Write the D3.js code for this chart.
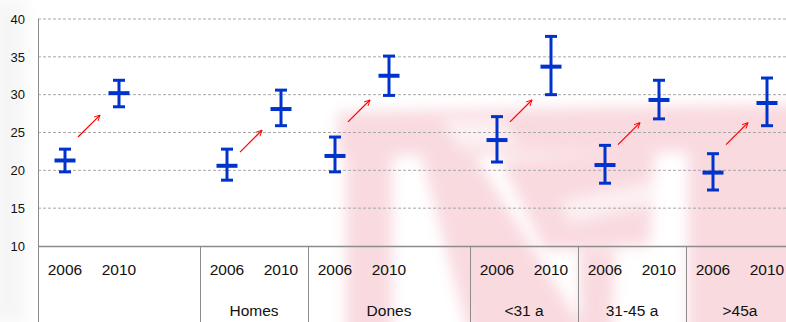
<!DOCTYPE html>
<html>
<head>
<meta charset="utf-8">
<script src="https://cdn.jsdelivr.net/npm/d3@7/dist/d3.min.js"></script>
<style>
  html, body { margin: 0; padding: 0; background: #fff; }
  svg { display: block; font-family: "Liberation Sans", Arial, sans-serif; }
</style>
</head>
<body>
<svg id="chart" width="786" height="322"></svg>
<script>
// Group labels and how many category slots each group occupies
const groupLabels = ["", "Homes", "Dones", "<31 a", "31-45 a", ">45a"];
const groupSlots = [3, 2, 3, 2, 2, 2];
const years = ["2006", "2010"];
const yTicks = [10, 15, 20, 25, 30, 35, 40];

// Mean values with lower / upper confidence limits
const mean2006 = [21.3, 20.6, 21.9, 24.0, 20.7, 19.7];
const low2006  = [19.8, 18.7, 19.8, 21.1, 18.3, 17.4];
const high2006 = [22.8, 22.8, 24.4, 27.1, 23.3, 22.2];
const mean2010 = [30.2, 28.1, 32.5, 33.7, 29.3, 28.9];
const low2010  = [28.4, 25.9, 29.9, 30.0, 26.8, 25.9];
const high2010 = [31.9, 30.6, 35.1, 37.7, 31.9, 32.2];

// Trend arrows: start and end level of each arrow
const arrowFrom = [24.4, 22.4, 26.4, 26.4, 23.4, 23.4];
const arrowTo   = [27.3, 25.3, 29.3, 29.3, 26.3, 26.3];

const svg = d3.select("#chart");
const W = 786, H = 322;
const plotLeft = 38, plotTop = 19, plotBottom = 246;
const slot = 54;

// Category slots: each group gets its year slots plus optional empty slots
const slots = [];
groupLabels.forEach((g, gi) => {
  for (let k = 0; k < groupSlots[gi]; k++) {
    slots.push(k < years.length ? `g${gi}-${years[k]}` : `g${gi}-pad${k}`);
  }
});

const x = d3.scaleBand().domain(slots).range([plotLeft, plotLeft + slots.length * slot]).padding(0);
const y = d3.scaleLinear().domain([10, 40]).range([plotBottom, plotTop]);
const cx = key => x(key) + x.bandwidth() / 2;

// Background emblem, soft and faded
const defs = svg.append("defs");
defs.append("filter").attr("id", "soft").attr("filterUnits", "userSpaceOnUse")
  .attr("x", -50).attr("y", -50).attr("width", W + 100).attr("height", H + 100)
  .append("feGaussianBlur").attr("stdDeviation", 7);
const emblem = svg.append("g").attr("filter", "url(#soft)").attr("fill", "#f4bcc6").attr("opacity", 0.55);
[
  "M338,112 L800,104 L800,150 L338,156 Z",
  "M346,130 L392,130 L392,340 L346,340 Z",
  "M420,150 L470,148 L590,340 L470,340 Z",
  "M500,160 L655,150 L650,245 L545,250 Z",
  "M688,110 L800,110 L800,340 L688,340 Z",
  "M580,250 L615,250 L612,340 L580,340 Z"
].forEach(d => emblem.append("path").attr("d", d));
const streaks = svg.append("g").attr("filter", "url(#soft)").attr("fill", "#ffffff").attr("opacity", 0.6);
["M440,118 L500,118 L520,145 L460,150 Z", "M560,200 L660,180 L670,200 L570,225 Z"]
  .forEach(d => streaks.append("path").attr("d", d));
svg.append("rect").attr("x", -10).attr("y", 0).attr("width", 36).attr("height", H)
  .attr("fill", "#ededed").attr("opacity", 0.5).attr("filter", "url(#soft)");

// Horizontal gridlines
svg.append("g").selectAll("line")
  .data(yTicks.filter(t => t > 10))
  .join("line")
  .attr("x1", plotLeft).attr("x2", W)
  .attr("y1", d => y(d)).attr("y2", d => y(d))
  .attr("stroke", "#a8a8a8").attr("stroke-width", 1)
  .attr("stroke-dasharray", "3,2");

// Y axis
const yAxis = svg.append("g")
  .attr("transform", `translate(${plotLeft},0)`)
  .call(d3.axisLeft(y).tickValues(yTicks).tickSize(0).tickPadding(13).tickFormat(d3.format("d")));
yAxis.select(".domain").remove();
yAxis.selectAll("text").attr("font-size", 13).attr("fill", "#111")
  .attr("font-family", "Liberation Sans, Arial, sans-serif");

// Axis frame: left line down through label area, bottom axis line
svg.append("line").attr("x1", plotLeft + 0.5).attr("x2", plotLeft + 0.5)
  .attr("y1", y(40)).attr("y2", H).attr("stroke", "#8c8c8c");
svg.append("line").attr("x1", plotLeft).attr("x2", W)
  .attr("y1", plotBottom + 0.5).attr("y2", plotBottom + 0.5).attr("stroke", "#8c8c8c").attr("stroke-width", 1.5);

// Group separators in the label area
let acc = 0;
const groupSpans = groupSlots.map(n => { const s = acc; acc += n; return [s, acc]; });
svg.append("g").selectAll("line")
  .data(groupSpans.slice(1))
  .join("line")
  .attr("x1", d => Math.round(x(slots[d[0]])) + 0.5)
  .attr("x2", d => Math.round(x(slots[d[0]])) + 0.5)
  .attr("y1", plotBottom).attr("y2", H)
  .attr("stroke", "#8c8c8c");

// Year labels
const yearKeys = [];
groupLabels.forEach((g, gi) => years.forEach(yr => yearKeys.push({ key: `g${gi}-${yr}`, yr })));
svg.append("g").selectAll("text")
  .data(yearKeys)
  .join("text")
  .attr("x", d => cx(d.key)).attr("y", 275)
  .attr("text-anchor", "middle").attr("font-size", 15.5).attr("fill", "#111")
  .text(d => d.yr);

// Group labels centred under each group
svg.append("g").selectAll("text")
  .data(groupLabels.map((g, i) => ({ g, span: groupSpans[i] })))
  .join("text")
  .attr("x", d => (x(slots[d.span[0]]) + x(slots[d.span[1] - 1]) + x.bandwidth()) / 2)
  .attr("y", 316)
  .attr("text-anchor", "middle").attr("font-size", 15.5).attr("fill", "#111")
  .text(d => d.g);

// Error bars
const points = [];
groupLabels.forEach((g, gi) => {
  points.push({ key: `g${gi}-2006`, m: mean2006[gi], lo: low2006[gi], hi: high2006[gi] });
  points.push({ key: `g${gi}-2010`, m: mean2010[gi], lo: low2010[gi], hi: high2010[gi] });
});
const blue = "#0033cc";
const bars = svg.append("g").selectAll("g").data(points).join("g");
bars.append("line")
  .attr("x1", d => cx(d.key)).attr("x2", d => cx(d.key))
  .attr("y1", d => y(d.hi)).attr("y2", d => y(d.lo))
  .attr("stroke", blue).attr("stroke-width", 3);
bars.selectAll(".cap").data(d => [[d.key, d.hi], [d.key, d.lo]]).join("line")
  .attr("class", "cap")
  .attr("x1", d => cx(d[0]) - 6).attr("x2", d => cx(d[0]) + 6)
  .attr("y1", d => y(d[1])).attr("y2", d => y(d[1]))
  .attr("stroke", blue).attr("stroke-width", 3);
bars.append("line")
  .attr("x1", d => cx(d.key) - 10.5).attr("x2", d => cx(d.key) + 10.5)
  .attr("y1", d => y(d.m)).attr("y2", d => y(d.m))
  .attr("stroke", blue).attr("stroke-width", 4);

// Red trend arrows between 2006 and 2010
defs.append("marker").attr("id", "head")
  .attr("viewBox", "0 0 10 10").attr("refX", 9).attr("refY", 5)
  .attr("markerWidth", 7).attr("markerHeight", 7).attr("markerUnits", "userSpaceOnUse")
  .attr("orient", "auto")
  .append("path").attr("d", "M1,1 L9,5 L1,9").attr("fill", "none")
  .attr("stroke", "#ff0000").attr("stroke-width", 1.3);
svg.append("g").selectAll("line")
  .data(groupLabels.map((g, i) => i))
  .join("line")
  .attr("x1", i => cx(`g${i}-2006`) + 13)
  .attr("x2", i => cx(`g${i}-2006`) + 35)
  .attr("y1", i => y(arrowFrom[i]))
  .attr("y2", i => y(arrowTo[i]))
  .attr("stroke", "#ff0000").attr("stroke-width", 1.2)
  .attr("marker-end", "url(#head)");
</script>
</body>
</html>
